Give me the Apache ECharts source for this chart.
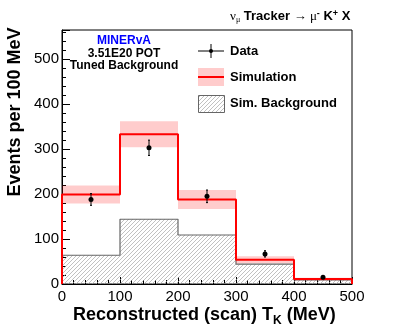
<!DOCTYPE html>
<html>
<head>
<meta charset="utf-8">
<script src="https://cdn.jsdelivr.net/npm/echarts@6/dist/echarts.min.js"></script>
<style>
  html, body { margin: 0; padding: 0; background: #fff; }
  #main { width: 415px; height: 335px; }
</style>
</head>
<body>
<div id="main"></div>
<script>
// bin edges of the histogram (MeV)
const binEdges = [0, 100, 200, 300, 400, 500];
// data points and stat errors
const dataVals = [188, 303, 195, 67, 15];
const dataErr = [13, 17, 14, 7, 3];
// simulation and its error band
const simVals = [199, 333, 188, 54, 11];
const simErr = [20, 29, 21, 8, 3];
// simulated background
const bgVals = [64, 144, 109, 44, 9];
const yTicks = [0, 100, 200, 300, 400, 500];

const FONT = 'Liberation Sans, Arial, Helvetica, sans-serif';
const SERIF = 'Liberation Serif, DejaVu Serif, serif';

// hatch pattern for the background
function makeHatch() {
    const n = 4;
    const c = document.createElement('canvas');
    c.width = n; c.height = n;
    const ctx = c.getContext('2d');
    ctx.strokeStyle = '#a6a6a6';
    ctx.lineWidth = 0.7;
    ctx.beginPath();
    ctx.moveTo(0, n); ctx.lineTo(n, 0);
    ctx.moveTo(-1, 1); ctx.lineTo(1, -1);
    ctx.moveTo(n - 1, n + 1); ctx.lineTo(n + 1, n - 1);
    ctx.stroke();
    return c;
}
const hatch = {image: makeHatch(), repeat: 'repeat'};

// step outline points for a histogram
const stepPoints = (vals) => {
    let pts = [[binEdges[0], 0]];
    vals.forEach((v, i) => {
        pts.push([binEdges[i], v]);
        pts.push([binEdges[i + 1], v]);
    });
    pts.push([binEdges[binEdges.length - 1], 0]);
    return pts;
};

const rectRender = (style) => (params, api) => {
    const p0 = api.coord([api.value(0), api.value(3)]);
    const p1 = api.coord([api.value(1), api.value(2)]);
    return {
        type: 'rect',
        shape: {x: p0[0], y: p0[1], width: p1[0] - p0[0], height: p1[1] - p0[1]},
        style: style
    };
};

const bgRects = bgVals.map((v, i) => [binEdges[i], binEdges[i + 1], 0, v]);
const bandRects = simVals.map((v, i) => [binEdges[i], binEdges[i + 1], v - simErr[i], v + simErr[i]]);
const dataPts = dataVals.map((v, i) => [(binEdges[i] + binEdges[i + 1]) / 2, v, dataErr[i]]);

const chart = echarts.init(document.getElementById('main'));

const option = {
    animation: false,
    grid: {
        left: 62, right: 63, top: 30, bottom: 51,
        show: true, borderColor: '#000', borderWidth: 1, backgroundColor: 'transparent'
    },
    xAxis: {
        type: 'value', min: 0, max: 500, interval: 100,
        axisLine: {show: true, lineStyle: {color: '#000', width: 1}},
        axisTick: {show: true, inside: true, length: 7, lineStyle: {color: '#000'}},
        minorTick: {show: true, splitNumber: 5, length: 4, lineStyle: {color: '#000'}},
        splitLine: {show: false},
        axisLabel: {color: '#000', fontSize: 15, fontFamily: FONT, margin: 5}
    },
    yAxis: {
        type: 'value', min: 0, max: 565, interval: 100,
        axisLine: {show: true, lineStyle: {color: '#000', width: 1}},
        axisTick: {show: true, inside: true, length: 8, lineStyle: {color: '#000'}},
        minorTick: {show: true, splitNumber: 5, length: 4, lineStyle: {color: '#000'}},
        splitLine: {show: false},
        axisLabel: {
            color: '#000', fontSize: 15, fontFamily: FONT, margin: 3, showMaxLabel: false,
            formatter: (v) => yTicks.includes(v) ? String(v) : ''
        }
    },
    series: [
        {
            type: 'custom', name: 'bgfill', z: 1,
            renderItem: rectRender({fill: hatch}),
            data: bgRects
        },
        {
            type: 'line', name: 'bgline', z: 2, data: stepPoints(bgVals),
            symbol: 'none', lineStyle: {color: '#666', width: 1.2}, clip: false
        },
        {
            type: 'custom', name: 'band', z: 3,
            renderItem: rectRender({fill: 'rgba(255,0,0,0.2)'}),
            data: bandRects
        },
        {
            type: 'line', name: 'sim', z: 4, data: stepPoints(simVals),
            symbol: 'none', lineStyle: {color: '#ff0000', width: 2}, clip: false
        },
        {
            type: 'custom', name: 'data', z: 5,
            renderItem: (params, api) => {
                const c = api.coord([api.value(0), api.value(1)]);
                const hi = api.coord([api.value(0), api.value(1) + api.value(2)]);
                const lo = api.coord([api.value(0), api.value(1) - api.value(2)]);
                return {
                    type: 'group',
                    children: [
                        {type: 'line', shape: {x1: c[0], y1: hi[1], x2: c[0], y2: lo[1]}, style: {stroke: '#000', lineWidth: 1}},
                        {type: 'line', shape: {x1: c[0] - 1, y1: hi[1], x2: c[0] + 1, y2: hi[1]}, style: {stroke: '#000', lineWidth: 1}},
                        {type: 'line', shape: {x1: c[0] - 1, y1: lo[1], x2: c[0] + 1, y2: lo[1]}, style: {stroke: '#000', lineWidth: 1}},
                        {type: 'circle', shape: {cx: c[0], cy: c[1], r: 2.5}, style: {fill: '#000'}}
                    ]
                };
            },
            data: dataPts
        }
    ],
    graphic: [
        // title
        {
            type: 'text', left: 230, top: 9,
            style: {
                text: '{s|ν}{sub|μ}{b| Tracker }{s|→ μ}{sup|-}{b| K}{sup|+}{b| X}',
                rich: {
                    s: {fontFamily: SERIF, fontSize: 13, fill: '#000'},
                    sub: {fontFamily: SERIF, fontSize: 8, fill: '#000', verticalAlign: 'bottom', padding: [6, 0, 0, 0]},
                    sup: {fontFamily: FONT, fontSize: 9, fontWeight: 'bold', fill: '#000', verticalAlign: 'top', padding: [0, 0, 6, 0]},
                    b: {fontFamily: FONT, fontSize: 13, fontWeight: 'bold', fill: '#000'}
                }
            }
        },
        // experiment labels
        {type: 'text', x: 124, y: 41, style: {text: 'MINERvA', fill: '#0000ff', font: 'bold 12px ' + FONT, align: 'center', verticalAlign: 'middle'}},
        {type: 'text', x: 124, y: 54, style: {text: '3.51E20 POT', fill: '#000', font: 'bold 12px ' + FONT, align: 'center', verticalAlign: 'middle'}},
        {type: 'text', x: 124, y: 66, style: {text: 'Tuned Background', fill: '#000', font: 'bold 12px ' + FONT, align: 'center', verticalAlign: 'middle'}},
        // legend
        {type: 'line', shape: {x1: 198, y1: 51, x2: 224, y2: 51}, style: {stroke: '#000', lineWidth: 1}},
        {type: 'line', shape: {x1: 211, y1: 44, x2: 211, y2: 58}, style: {stroke: '#000', lineWidth: 1}},
        {type: 'circle', shape: {cx: 211, cy: 51, r: 2}, style: {fill: '#000'}},
        {type: 'text', x: 230, y: 51, style: {text: 'Data', fill: '#000', font: 'bold 13px ' + FONT, verticalAlign: 'middle'}},
        {type: 'rect', shape: {x: 198, y: 68, width: 26, height: 18}, style: {fill: 'rgba(255,0,0,0.2)'}},
        {type: 'line', shape: {x1: 198, y1: 77, x2: 224, y2: 77}, style: {stroke: '#ff0000', lineWidth: 2}},
        {type: 'text', x: 230, y: 77, style: {text: 'Simulation', fill: '#000', font: 'bold 13px ' + FONT, verticalAlign: 'middle'}},
        {type: 'rect', shape: {x: 198.5, y: 95.5, width: 26, height: 17}, style: {fill: hatch, stroke: '#666', lineWidth: 1}},
        {type: 'text', x: 230, y: 103, style: {text: 'Sim. Background', fill: '#000', font: 'bold 13px ' + FONT, verticalAlign: 'middle'}},
        // axis titles
        {
            type: 'text', x: 15, y: 112, rotation: Math.PI / 2,
            style: {text: 'Events per 100 MeV', fill: '#000', font: 'bold 18px ' + FONT, align: 'center', verticalAlign: 'middle'}
        },
        {
            type: 'text', left: 73, top: 306,
            style: {
                text: '{b|Reconstructed (scan) T}{sub|K}{b| (MeV)}',
                rich: {
                    b: {fontFamily: FONT, fontSize: 18, fontWeight: 'bold', fill: '#000'},
                    sub: {fontFamily: FONT, fontSize: 12, fontWeight: 'bold', fill: '#000', verticalAlign: 'bottom', padding: [12, 0, 0, 0]}
                }
            }
        }
    ]
};

chart.setOption(option);
</script>
</body>
</html>
